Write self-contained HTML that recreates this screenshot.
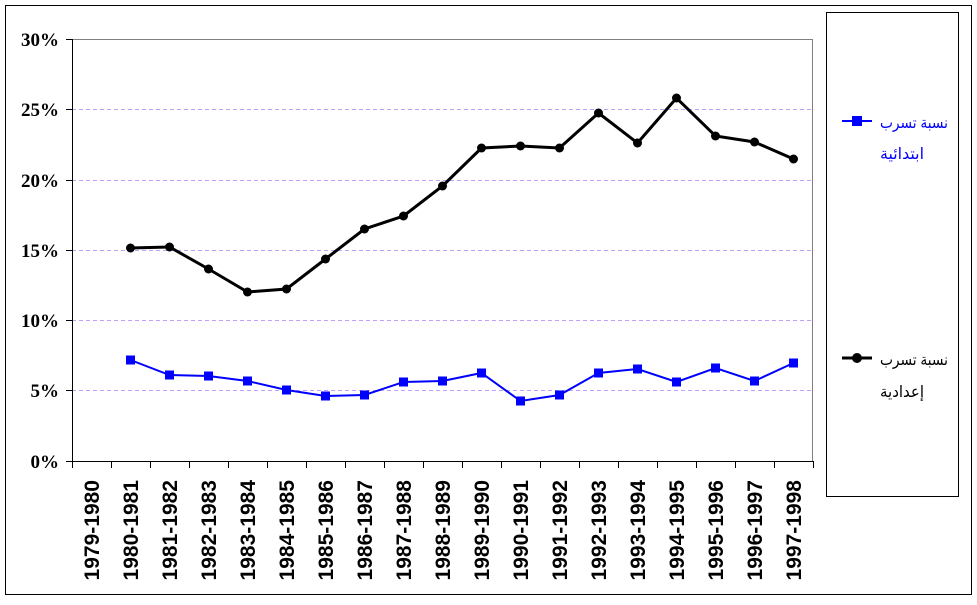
<!DOCTYPE html>
<html><head><meta charset="utf-8"><style>html,body{margin:0;padding:0;background:#fff}</style></head>
<body>
<svg width="977" height="600" xmlns="http://www.w3.org/2000/svg">
<rect x="5.5" y="5.5" width="966" height="589" fill="#fff" stroke="#000" stroke-width="1"/>
<rect x="826.5" y="12.5" width="132" height="484" fill="#fff" stroke="#000" stroke-width="1"/>
<g stroke="#c0a0ff" stroke-dasharray="4,3" stroke-width="1">
<line x1="72" y1="109.5" x2="813" y2="109.5"/>
<line x1="72" y1="180.5" x2="813" y2="180.5"/>
<line x1="72" y1="250.5" x2="813" y2="250.5"/>
<line x1="72" y1="320.5" x2="813" y2="320.5"/>
<line x1="72" y1="390.5" x2="813" y2="390.5"/>
</g>
<line x1="72" y1="39.5" x2="813" y2="39.5" stroke="#808080"/>
<line x1="812.5" y1="39" x2="812.5" y2="461" stroke="#808080"/>
<line x1="72.5" y1="39" x2="72.5" y2="468" stroke="#000"/>
<line x1="66" y1="461.5" x2="813" y2="461.5" stroke="#000"/>
<g stroke="#000">
<line x1="66" y1="39.5" x2="72" y2="39.5"/><line x1="66" y1="109.5" x2="72" y2="109.5"/><line x1="66" y1="180.5" x2="72" y2="180.5"/><line x1="66" y1="250.5" x2="72" y2="250.5"/><line x1="66" y1="320.5" x2="72" y2="320.5"/><line x1="66" y1="390.5" x2="72" y2="390.5"/>
</g>
<g id="ticks" stroke="#000"></g>
<g font-family="Liberation Serif, serif" font-weight="bold" font-size="19" text-anchor="end">
<text x="59" y="46">30%</text><text x="59" y="116">25%</text><text x="59" y="187">20%</text><text x="59" y="257">15%</text><text x="59" y="327">10%</text><text x="59" y="397">5%</text><text x="59" y="468">0%</text>
</g>
<g id="xl" font-family="Liberation Sans, sans-serif" font-weight="bold" font-size="21" text-anchor="end"></g>
<polyline id="bk" fill="none" stroke="#000" stroke-width="3"/>
<polyline id="bl" fill="none" stroke="#0000ff" stroke-width="2"/>
<g id="mk"></g>
<line x1="842" y1="121" x2="872" y2="121" stroke="#0000ff" stroke-width="2"/>
<rect x="852" y="116" width="10" height="10" fill="#0000ff"/>
<line x1="842" y1="358" x2="872" y2="358" stroke="#000" stroke-width="3"/>
<circle cx="857" cy="358" r="5" fill="#000"/>
<g font-family="Liberation Sans, 'DejaVu Sans', sans-serif" font-size="16" text-anchor="start">
<text x="880" y="128" fill="#0000ff" textLength="68" lengthAdjust="spacingAndGlyphs">نسبة تسرب</text>
<text x="880" y="159" fill="#0000ff" textLength="44" lengthAdjust="spacingAndGlyphs">ابتدائية</text>
<text x="880" y="365" textLength="68" lengthAdjust="spacingAndGlyphs">نسبة تسرب</text>
<text x="880" y="397" textLength="44" lengthAdjust="spacingAndGlyphs">إعدادية</text>
</g>
</svg>
<script>
var w=741/19,x0=72,ns="http://www.w3.org/2000/svg";
var labs=[];for(var i=0;i<19;i++)labs.push((1979+i)+"-"+(1980+i));
var t=document.getElementById("ticks"),xl=document.getElementById("xl");
for(var i=1;i<=19;i++){var x=Math.round(x0+i*w)+0.5;var l=document.createElementNS(ns,"line");l.setAttribute("x1",x);l.setAttribute("x2",x);l.setAttribute("y1",461);l.setAttribute("y2",468);t.appendChild(l);}
for(var i=0;i<19;i++){var cx=x0+(i+0.5)*w+7.5;var tx=document.createElementNS(ns,"text");tx.setAttribute("transform","translate("+cx+",480) rotate(-90)");tx.textContent=labs[i];xl.appendChild(tx);}
var bk=[248,247,269,292,289,259,229,216,186,148,146,148,113,143,98,136,142,159];
var bl=[360,375,376,381,390,396,395,382,381,373,401,395,373,369,382,368,381,363];
var pk=[],pb=[],mk=document.getElementById("mk");
for(var i=0;i<18;i++){var cx=x0+(i+1.5)*w;pk.push(cx+","+bk[i]);pb.push(cx+","+bl[i]);}
document.getElementById("bk").setAttribute("points",pk.join(" "));
document.getElementById("bl").setAttribute("points",pb.join(" "));
for(var i=0;i<18;i++){var cx=x0+(i+1.5)*w;
var r=document.createElementNS(ns,"rect");r.setAttribute("x",cx-4.5);r.setAttribute("y",bl[i]-4.5);r.setAttribute("width",9);r.setAttribute("height",9);r.setAttribute("fill","#0000ff");mk.appendChild(r);
var c=document.createElementNS(ns,"circle");c.setAttribute("cx",cx);c.setAttribute("cy",bk[i]);c.setAttribute("r",4.5);c.setAttribute("fill","#000");mk.appendChild(c);}
</script>
</body></html>
